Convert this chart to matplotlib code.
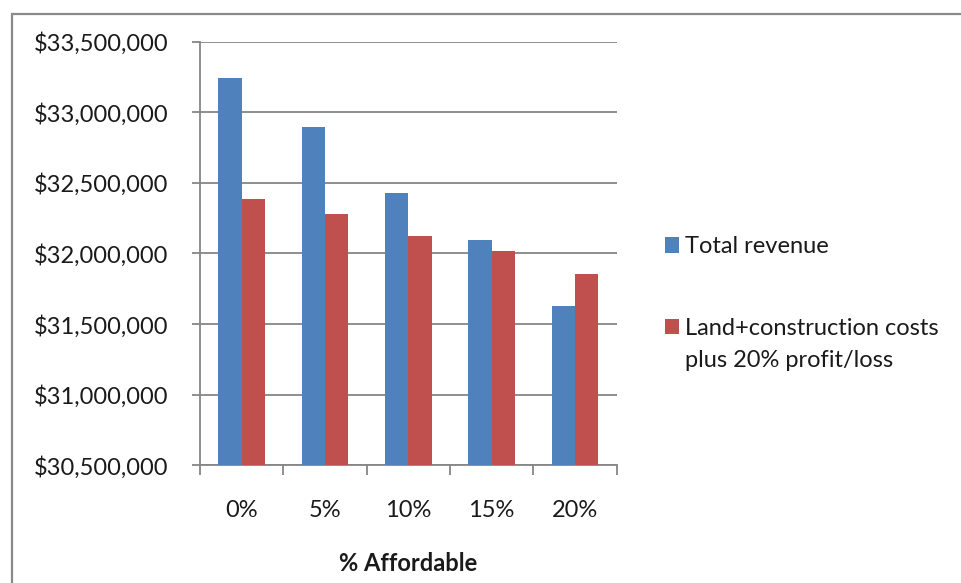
import matplotlib.pyplot as plt
from matplotlib.patches import Rectangle
from matplotlib.ticker import FuncFormatter
import numpy as np

plt.rcParams['font.family'] = ['Lato', 'DejaVu Sans']

# Datos
categories = ["0%", "5%", "10%", "15%", "20%"]
revenue = [33240000, 32893000, 32431000, 32093000, 31630000]
costs = [32383000, 32277000, 32121000, 32015000, 31857000]
series_names = ["Total revenue", "Land+construction costs"]
extra_line = "plus 20% profit/loss"

blue = "#4f81bd"
red = "#c0504d"
gray = "#868686"
txt = "#1a1a1a"
fs = 17

fig = plt.figure(figsize=(9.62, 5.83), dpi=100)
ax = fig.add_axes([0.208, 0.2019, 0.433, 0.7266])

x = np.arange(len(categories))
w = 0.28
ax.bar(x - w/2, revenue, width=w, color=blue, label=series_names[0], zorder=3)
ax.bar(x + w/2, costs, width=w, color=red, label=series_names[1], zorder=3)

ax.set_xlim(-0.5, len(categories) - 0.5)
ax.set_ylim(30500000, 33500000)
ax.set_yticks(np.arange(30500000, 33500001, 500000))
ax.yaxis.set_major_formatter(FuncFormatter(lambda v, p: "${:,.0f}".format(v)))

ax.grid(axis="y", color=gray, lw=1.3, zorder=0)
for s in ["top", "right"]:
    ax.spines[s].set_visible(False)
for s in ["left", "bottom"]:
    ax.spines[s].set_color(gray)
    ax.spines[s].set_linewidth(1.3)

ax.tick_params(axis="y", length=6, width=1.3, color=gray, pad=17,
               labelsize=fs, labelcolor=txt)
ax.set_xticks(x)
ax.set_xticklabels(categories)
ax.set_xticks(np.arange(-0.5, len(categories)), minor=True)
ax.tick_params(axis="x", which="major", length=0, pad=25,
               labelsize=fs, labelcolor=txt)
ax.tick_params(axis="x", which="minor", length=7, width=1.3, color=gray)

ax.set_xlabel("% Affordable", fontsize=fs, fontweight="bold", color=txt, labelpad=22)

leg = fig.legend(loc="upper left", bbox_to_anchor=(0.669, 0.631), frameon=False,
                 fontsize=fs, handlelength=0.62, handleheight=0.62, handletextpad=0.25,
                 labelspacing=2.55, labelcolor=txt)

# segunda linea de la leyenda
fig.canvas.draw()
bb = leg.get_texts()[1].get_window_extent().transformed(fig.transFigure.inverted())
fig.text(bb.x0, bb.y0 - 0.019, extra_line, fontsize=fs, color=txt, va="top", ha="left")

# Borde exterior
fig.patches.append(Rectangle((0.0125, -0.1), 1.2, 0.1 + 0.976, transform=fig.transFigure,
                             fill=False, edgecolor="#8a8a8a", lw=1.6))

plt.savefig("out.png", dpi=100)
